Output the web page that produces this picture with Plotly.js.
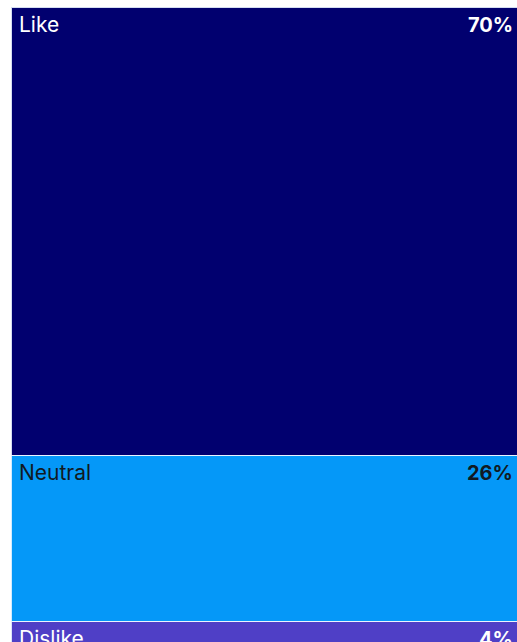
<!DOCTYPE html>
<html>
<head>
<meta charset="utf-8">
<script src="https://cdn.plot.ly/plotly-3.0.1.min.js"></script>
<style>
html, body { margin: 0; padding: 0; overflow: hidden; background: #ffffff; }
#chart { width: 532px; height: 654px; }
</style>
</head>
<body>
<div id="chart"></div>
<script>
// Data (top to bottom as shown)
const categories = ['Like', 'Neutral', 'Dislike'];
const values = [70, 26, 4];
const valueLabels = ['70%', '26%', '4%'];
const colors = ['#01006f', '#0598f8', '#4f3fc6'];
const textColors = ['#ffffff', '#111a22', '#ffffff'];

// Build stacked bar traces from bottom to top
const traces = [];
for (let i = categories.length - 1; i >= 0; i--) {
  traces.push({
    type: 'bar',
    x: [0],
    y: [values[i]],
    name: categories[i],
    width: [1],
    marker: { color: colors[i], line: { color: 'rgba(235,245,255,0.9)', width: 1 } },
    hoverinfo: 'skip'
  });
}

// Segment tops
const totalValue = values.reduce((a, b) => a + b, 0);
const annotations = [];
let segTop = totalValue;
for (let i = 0; i < categories.length; i++) {
  annotations.push({
    xref: 'paper', yref: 'y', x: 0, y: segTop,
    xanchor: 'left', yanchor: 'top', xshift: 7, yshift: -4,
    borderpad: 0, showarrow: false,
    text: categories[i],
    font: { family: 'Inter, sans-serif', size: 21, color: textColors[i], weight: 400 }
  });
  annotations.push({
    xref: 'paper', yref: 'y', x: 1, y: segTop,
    xanchor: 'right', yanchor: 'top', xshift: -7, yshift: -5,
    borderpad: 0, showarrow: false,
    text: valueLabels[i],
    font: { family: 'Inter, sans-serif', size: 20, color: textColors[i], weight: 700 }
  });
  segTop -= values[i];
}

const layout = {
  width: 532, height: 654,
  margin: { l: 11, r: 11, t: 7, b: 7, pad: 0 },
  barmode: 'stack',
  bargap: 0,
  showlegend: false,
  paper_bgcolor: '#ffffff',
  plot_bgcolor: '#ffffff',
  xaxis: { range: [-0.5, 0.5], visible: false, fixedrange: true },
  yaxis: { range: [0, totalValue], visible: false, fixedrange: true },
  annotations: annotations
};

Plotly.newPlot('chart', traces, layout, { displayModeBar: false, staticPlot: true });
</script>
</body>
</html>
